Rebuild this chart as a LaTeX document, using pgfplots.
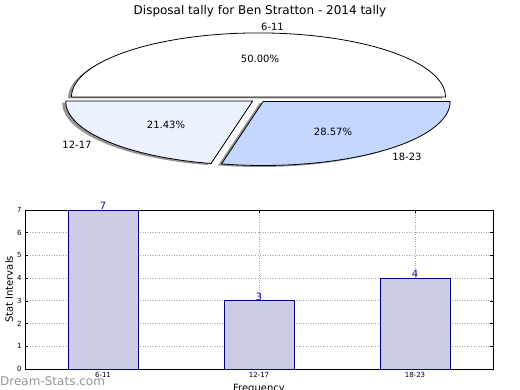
\documentclass[border=0pt]{standalone}
\usepackage{pgfplots}
\usepackage{pgfplotstable}
\pgfplotsset{compat=1.18}
\usepackage{fontspec}
\setmainfont{DejaVu Sans}
\definecolor{wedgeA}{HTML}{FFFFFF}
\definecolor{wedgeB}{HTML}{EBF1FF}
\definecolor{wedgeC}{HTML}{C4D8FF}
\definecolor{barfill}{HTML}{CCCCE6}
\definecolor{baredge}{HTML}{000080}
\definecolor{valblue}{HTML}{10109A}
\definecolor{gridgray}{HTML}{A8A8A8}
\newcommand{\fs}[1]{\fontsize{#1}{#1}\selectfont}

\pgfplotstableread{
idx label count
0 6-11 7
1 12-17 3
2 18-23 4
}\bardata

\begin{document}
\begin{tikzpicture}[x=1pt,y=1pt]
% pie geometry (pixel-like units, y upward)
\pgfmathsetmacro{\vA}{7}
\pgfmathsetmacro{\vB}{3}
\pgfmathsetmacro{\vC}{4}
\pgfmathsetmacro{\tot}{\vA+\vB+\vC}
\pgfmathsetmacro{\aA}{0}
\pgfmathsetmacro{\aB}{\aA+360*\vA/\tot}
\pgfmathsetmacro{\aC}{\aB+360*\vB/\tot}
\pgfmathsetmacro{\aD}{\aC+360*\vC/\tot}
\pgfmathsetmacro{\CX}{258.5}
\pgfmathsetmacro{\CY}{290.5}
\pgfmathsetmacro{\RX}{187}
\pgfmathsetmacro{\RY}{64}
\pgfmathsetmacro{\ex}{0.04}
\pgfmathsetmacro{\mA}{(\aA+\aB)/2}
\pgfmathsetmacro{\mB}{(\aB+\aC)/2}
\pgfmathsetmacro{\mC}{(\aC+\aD)/2}
\pgfmathsetmacro{\AX}{\CX+\ex*\RX*cos(\mA)}
\pgfmathsetmacro{\AY}{\CY+\ex*\RY*sin(\mA)}
\pgfmathsetmacro{\BX}{\CX+\ex*\RX*cos(\mB)}
\pgfmathsetmacro{\BY}{\CY+\ex*\RY*sin(\mB)}
\pgfmathsetmacro{\DX}{\CX+\ex*\RX*cos(\mC)}
\pgfmathsetmacro{\DY}{\CY+\ex*\RY*sin(\mC)}
\pgfmathsetmacro{\AXs}{\AX-3.5}
\pgfmathsetmacro{\AYs}{\AY-1.5}
\pgfmathsetmacro{\BXs}{\BX-3.5}
\pgfmathsetmacro{\BYs}{\BY-1.5}
\pgfmathsetmacro{\DXs}{\DX-3.5}
\pgfmathsetmacro{\DYs}{\DY-1.5}

\begin{axis}[name=bg, at={(0,0)}, anchor=south west, scale only axis,
  width=520pt, height=390pt, xmin=0, xmax=520, ymin=0, ymax=390,
  hide axis, clip=false]
  % shadows
  \fill[black!42] (\AXs,\AYs) -- ++(\aA:\RX pt and \RY pt) arc[start angle=\aA, end angle=\aB, x radius=\RX pt, y radius=\RY pt] -- cycle;
  \fill[black!42] (\BXs,\BYs) -- ++(\aB:\RX pt and \RY pt) arc[start angle=\aB, end angle=\aC, x radius=\RX pt, y radius=\RY pt] -- cycle;
  \fill[black!42] (\DXs,\DYs) -- ++(\aC:\RX pt and \RY pt) arc[start angle=\aC, end angle=\aD, x radius=\RX pt, y radius=\RY pt] -- cycle;
  % wedges
  \filldraw[fill=wedgeA, draw=black, line width=0.8pt, line join=round] (\AX,\AY) -- ++(\aA:\RX pt and \RY pt) arc[start angle=\aA, end angle=\aB, x radius=\RX pt, y radius=\RY pt] -- cycle;
  \filldraw[fill=wedgeB, draw=black, line width=0.8pt, line join=round] (\BX,\BY) -- ++(\aB:\RX pt and \RY pt) arc[start angle=\aB, end angle=\aC, x radius=\RX pt, y radius=\RY pt] -- cycle;
  \filldraw[fill=wedgeC, draw=black, line width=0.8pt, line join=round] (\DX,\DY) -- ++(\aC:\RX pt and \RY pt) arc[start angle=\aC, end angle=\aD, x radius=\RX pt, y radius=\RY pt] -- cycle;
  % texts
  \node[font=\fs{12}] at (260,378.5) {Disposal tally for Ben Stratton - 2014 tally};
  \node[font=\fs{10}] at (272.5,363.5) {6-11};
  \node[font=\fs{10}] at (260,331.5) {50.00\%};
  \node[font=\fs{10}] at (166,265.5) {21.43\%};
  \node[font=\fs{10}] at (333,258) {28.57\%};
  \node[font=\fs{10}] at (77,245) {12-17};
  \node[font=\fs{10}] at (407,233.5) {18-23};
  \node[font=\fs{12}, text=black!42, anchor=west, inner sep=0pt] at (0,9) {Dream-Stats.com};
\end{axis}

\begin{axis}[at={(bg.south west)}, anchor=south west, xshift=25pt, yshift=21pt, scale only axis,
  width=468pt, height=159pt,
  xmin=-0.5, xmax=2.5, ymin=0, ymax=7,
  xtick={0,1,2}, xticklabels={6-11,12-17,18-23},
  ytick={0,1,2,3,4,5,6,7},
  ybar, bar width=0.45, bar shift=0pt,
  grid=major, major grid style={gridgray, dotted, line width=0.8pt},
  tick align=inside, major tick length=3pt,
  tick style={black, line width=0.5pt},
  axis line style={black, line width=0.8pt},
  tick label style={font=\fs{7}},
  /pgf/number format/assume math mode=true,
  xlabel={Frequency}, ylabel={Stat Intervals},
  xlabel style={font=\fs{10}, at={(axis description cs:0.5,-0.094)}, anchor=north, inner sep=0pt},
  ylabel style={font=\fs{10}, at={(axis description cs:-0.034,0.5)}, anchor=center, inner sep=0pt},
  nodes near coords,
  every node near coord/.append style={font=\fs{10}, text=valblue, anchor=south, inner sep=0.3pt},
  clip=false]
  \addplot[fill=barfill, draw=baredge, line width=0.8pt] table[x=idx,y=count]{\bardata};
\end{axis}
\pgfresetboundingbox
\path[use as bounding box] (bg.south west) rectangle (bg.north east);
\end{tikzpicture}
\end{document}
